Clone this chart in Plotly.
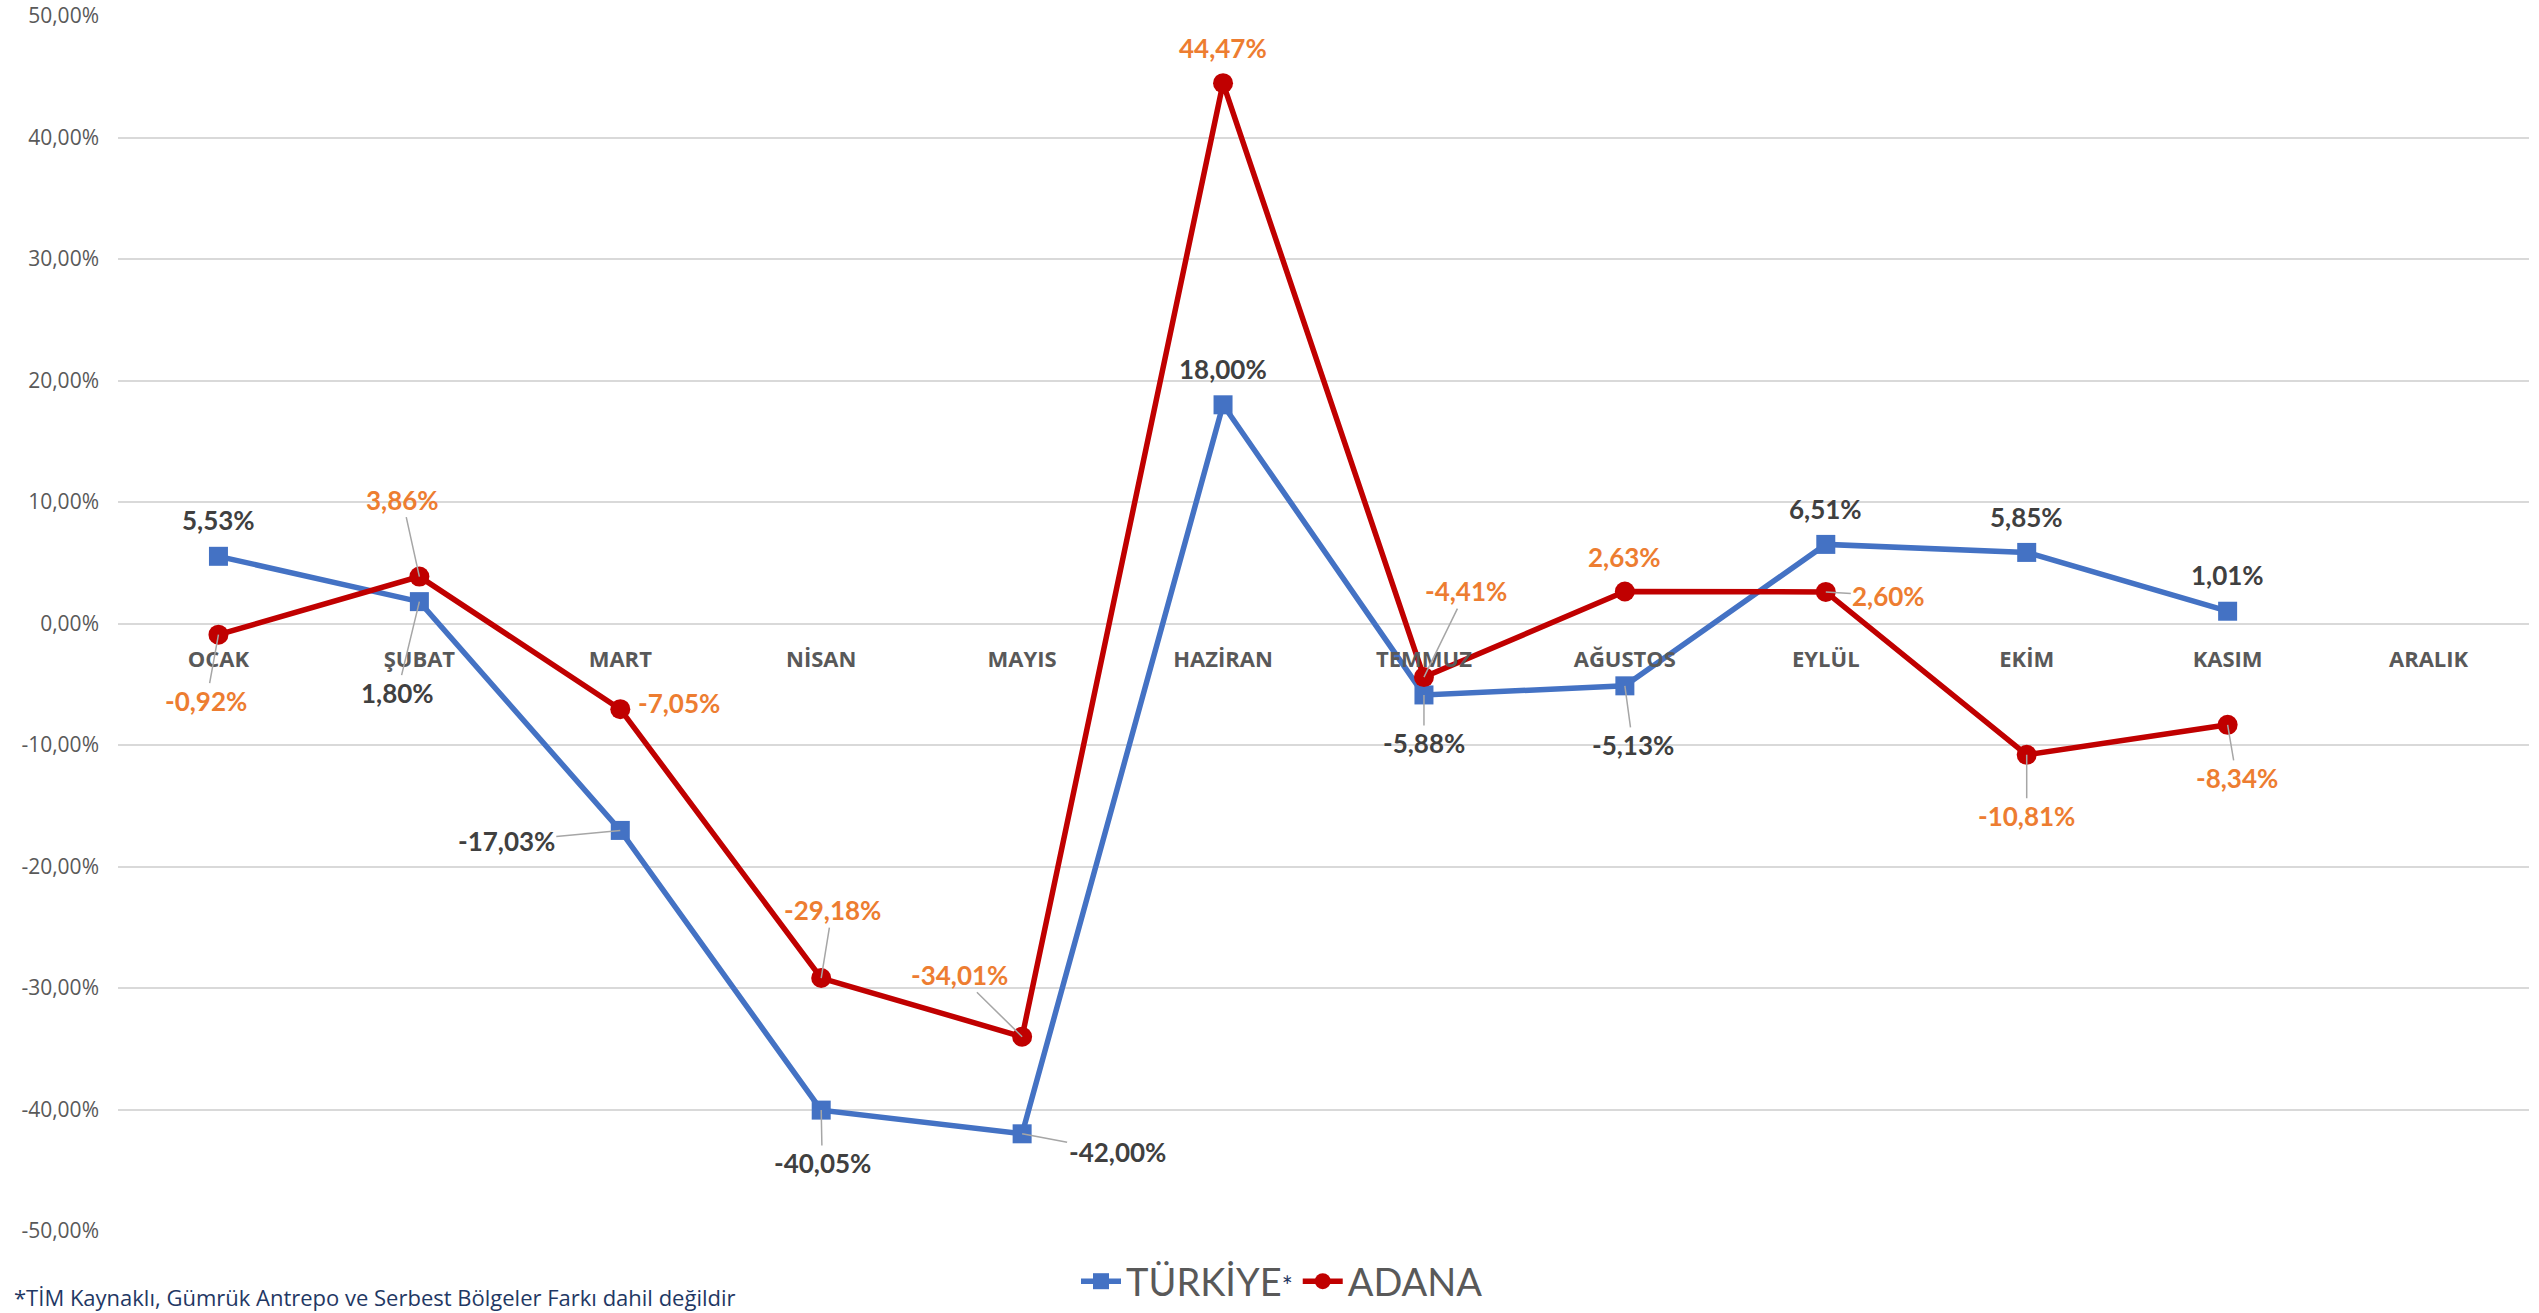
import plotly.graph_objects as go

# ---------------- data ----------------
months = ["OCAK", "ŞUBAT", "MART", "NİSAN", "MAYIS", "HAZİRAN",
          "TEMMUZ", "AĞUSTOS", "EYLÜL", "EKİM", "KASIM", "ARALIK"]
turkiye = [5.53, 1.80, -17.03, -40.05, -42.00, 18.00, -5.88, -5.13, 6.51, 5.85, 1.01, None]
adana = [-0.92, 3.86, -7.05, -29.18, -34.01, 44.47, -4.41, 2.63, 2.60, -10.81, -8.34, None]
y_ticks = [50, 40, 30, 20, 10, 0, -10, -20, -30, -40, -50]
footnote = "*TİM Kaynaklı, Gümrük Antrepo ve Serbest Bölgeler Farkı dahil değildir"

# ---------------- label placement (pixels: dx right, dy down, leader line?) ----------------
tr_label_pos = [(0, -36, False), (-22, 91, True), (-114, 11, True), (1, 53, True),
                (95, 18, True), (0, -36, False), (0, 48, True), (8, 59, True),
                (0, -35, False), (0, -35, False), (0, -36, False), None]
ad_label_pos = [(-12, 66, True), (-17, -77, True), (59, -6, False), (11, -68, True),
                (-63, -62, True), (0, -35, False), (42, -86, True), (0, -35, False),
                (63, 4, True), (0, 61, True), (9, 53, True), None]

W, H = 2539, 1313
ML, MR, MT, MB = 118, 10, 16, 82
plot_h = H - MT - MB
plot_w = W - ML - MR

BLUE = "#4472C4"
RED = "#C00000"
ORANGE = "#ED7D31"
DARK = "#404040"
GREY = "#595959"


def fmt(v):
    return f"{v:.2f}".replace(".", ",") + "%"


fig = go.Figure()
fig.add_trace(go.Scatter(
    x=months, y=turkiye, mode="lines+markers",
    name="TÜRKİYE<span style='color:#1F3864;font-size:26px'>*</span>",
    line=dict(color=BLUE, width=5.5),
    marker=dict(symbol="square", size=19, color=BLUE),
    connectgaps=False,
))
fig.add_trace(go.Scatter(
    x=months, y=adana, mode="lines+markers", name="ADANA",
    line=dict(color=RED, width=5.5),
    marker=dict(symbol="circle", size=20, color=RED),
    connectgaps=False,
))

annotations = []
for series, pos, color in ((turkiye, tr_label_pos, DARK), (adana, ad_label_pos, ORANGE)):
    for m, v, p in zip(months, series, pos):
        if v is None or p is None:
            continue
        dx, dy, leader = p
        common = dict(x=m, y=v, xref="x", yref="y", text="<b>" + fmt(v) + "</b>",
                      font=dict(family="Lato", size=26, color=color))
        if leader:
            annotations.append(dict(**common, showarrow=True, ax=dx, ay=dy,
                                    axref="pixel", ayref="pixel", arrowhead=0,
                                    arrowwidth=1.5, arrowcolor="#A6A6A6", standoff=0,
                                    startstandoff=0))
        else:
            annotations.append(dict(**common, showarrow=False, xshift=dx, yshift=-dy))

annotations.append(dict(
    x=(12 - ML) / plot_w, y=-(1297 - (H - MB)) / plot_h, xref="paper", yref="paper",
    xanchor="left", yanchor="middle", showarrow=False, text=footnote,
    font=dict(family="Open Sans", size=22, color="#1F3864"),
))

fig.update_layout(
    width=W, height=H,
    margin=dict(l=ML, r=MR, t=MT, b=MB, pad=0, autoexpand=False),
    paper_bgcolor="white", plot_bgcolor="white",
    showlegend=True,
    legend=dict(orientation="h", xref="container", yref="container",
                x=1282 / W, xanchor="center",
                y=1 - 1250 / H, yanchor="top",
                font=dict(family="Lato", size=38, color=GREY),
                bgcolor="rgba(0,0,0,0)", itemwidth=40, tracegroupgap=0),
    xaxis=dict(type="category", categoryorder="array", categoryarray=months,
               range=[-0.5, len(months) - 0.5], anchor="free", position=0.5,
               showgrid=False, showline=False, zeroline=False, ticks="",
               ticklabelstandoff=20, automargin=False,
               tickfont=dict(family="Open Sans", size=22, color=GREY, weight="bold")),
    yaxis=dict(range=[-50, 50], tickvals=y_ticks,
               ticktext=[fmt(t) for t in y_ticks], automargin=False,
               showgrid=True, gridcolor="#D9D9D9", gridwidth=1.5,
               zeroline=False, showline=False, ticks="", ticklabelstandoff=18,
               tickfont=dict(family="Open Sans", size=21, color=GREY)),
    annotations=annotations,
    font=dict(family="Open Sans"),
)

fig.write_html("out.html", config={"displayModeBar": False},
               post_script="document.body.style.margin='0';document.body.style.overflow='hidden';")
